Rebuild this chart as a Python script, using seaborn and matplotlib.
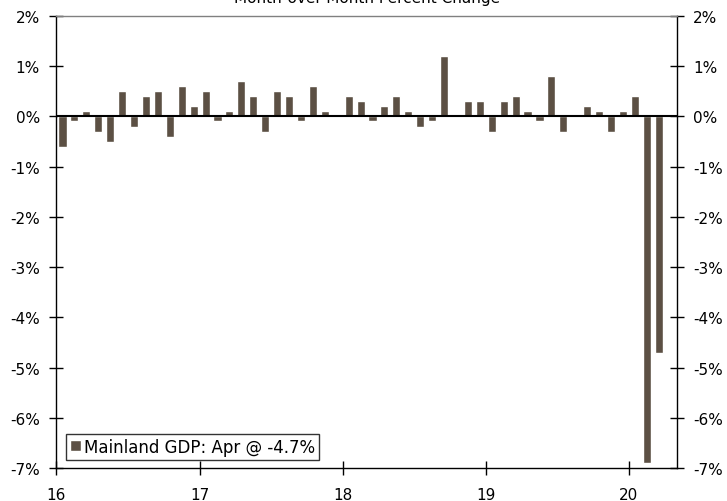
import seaborn as sns
import matplotlib
matplotlib.use("Agg")
import matplotlib.pyplot as plt
import pandas as pd

# Mainland GDP, month-over-month % change, Feb 2016 - Apr 2020
mom_change = [
    -0.6, -0.1, 0.1, -0.3, -0.5, 0.5, -0.2, 0.4, 0.5, -0.4, 0.6,
    0.2, 0.5, -0.1, 0.1, 0.7, 0.4, -0.3, 0.5, 0.4, -0.1, 0.6, 0.1,
    0.0, 0.4, 0.3, -0.1, 0.2, 0.4, 0.1, -0.2, -0.1, 1.2, 0.0, 0.3, 0.3,
    -0.3, 0.3, 0.4, 0.1, -0.1, 0.8, -0.3, 0.0, 0.2, 0.1, -0.3, 0.1,
    0.4, -6.9, -4.7,
]
year_labels = ["16", "17", "18", "19", "20"]
year_tick_pos = [-0.5, 11.5, 23.5, 35.5, 47.5]
y_ticks = [2, 1, 0, -1, -2, -3, -4, -5, -6, -7]
y_labels = [f"{v}%" for v in y_ticks]

df = pd.DataFrame({"idx": range(len(mom_change)), "val": mom_change})

sns.set_theme(style="white")
plt.rcParams["font.family"] = ["DejaVu Sans"]
plt.rcParams["text.color"] = "black"
plt.rcParams["xtick.color"] = "black"
plt.rcParams["ytick.color"] = "black"

fig = plt.figure(figsize=(7.27, 5.02), dpi=100)
ax = fig.add_axes([0.0777, 0.0657, 0.853, 0.9004])

sns.barplot(data=df, x="idx", y="val", color="#5C5044", width=0.68,
            saturation=1, label="Mainland GDP: Apr @ -4.7%", ax=ax)

ax.set_xlim(-0.5, 51.5)
ax.set_ylim(-7, 2)
ax.axhline(0, color="black", lw=1.5, zorder=3)

ax.set_xticks(year_tick_pos)
ax.set_xticklabels(year_labels)
ax.set_yticks(y_ticks)
ax.set_yticklabels(y_labels)
ax.set_xlabel("")
ax.set_ylabel("")

ax.tick_params(axis="y", direction="inout", length=10, width=1, colors="black",
               labelsize=11, pad=7, right=True, labelright=True, left=True)
ax.tick_params(axis="x", direction="inout", length=10, width=1, colors="black",
               labelsize=11, pad=9, bottom=True)

for side in ["left", "right", "bottom"]:
    ax.spines[side].set_color("black")
    ax.spines[side].set_linewidth(1)
ax.spines["top"].set_color("#808080")
ax.spines["top"].set_linewidth(1)

leg = ax.legend(loc="lower left", bbox_to_anchor=(0.015, 0.018), fontsize=12,
                frameon=True, fancybox=False, edgecolor="black",
                handlelength=0.65, handleheight=0.65, handletextpad=0.2,
                borderpad=0.25, borderaxespad=0, labelcolor="black")
leg.get_frame().set_linewidth(1)

fig.text(0.5 * (0.0777 + 0.9308), 1 - 2.5 / 502, "Month-over-Month Percent Change",
         ha="center", va="baseline", fontsize=11, color="black")

fig.savefig("out.png", dpi=100)
